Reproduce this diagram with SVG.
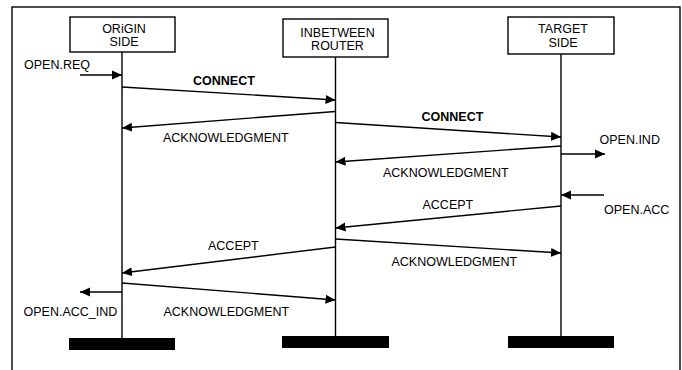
<svg xmlns="http://www.w3.org/2000/svg" width="682" height="370" viewBox="0 0 682 370">
<style>
text{font-family:"Liberation Sans",Arial,sans-serif;font-size:12.5px;fill:#000}
.b{font-weight:bold}
.m{text-anchor:middle}
.box{fill:#fff;stroke:#000;stroke-width:1.4}
.life{stroke:#000;stroke-width:1.4;fill:none}
.msg{stroke:#000;stroke-width:1.4;fill:none;marker-end:url(#ah)}
.bar{fill:#000}
</style>
<defs>
<marker id="ah" markerUnits="userSpaceOnUse" markerWidth="11" markerHeight="11" refX="10" refY="5" orient="auto">
<path d="M0,0.5 L10,5 L0,9.5 z" fill="#000"/>
</marker>
</defs>
<rect x="12" y="7" width="668" height="420" fill="none" stroke="#000" stroke-width="1.4"/>
<g id="origin">
<line class="life" x1="122" y1="52" x2="122" y2="339"/>
<rect class="box" x="70" y="17" width="105" height="35"/>
<text class="m" x="124" y="32.5">ORiGIN</text>
<text class="m" x="124" y="46">SIDE</text>
<rect class="bar" x="69" y="338" width="106" height="12"/>
</g>
<g id="router">
<line class="life" x1="335.5" y1="57" x2="335.5" y2="337"/>
<rect class="box" x="283" y="19" width="105" height="38"/>
<text class="m" x="337.5" y="36.5">INBETWEEN</text>
<text class="m" x="337.5" y="50">ROUTER</text>
<rect class="bar" x="282" y="336" width="107" height="12"/>
</g>
<g id="target">
<line class="life" x1="561" y1="54" x2="561" y2="337"/>
<rect class="box" x="508" y="17" width="106" height="37"/>
<text class="m" x="563" y="33">TARGET</text>
<text class="m" x="563" y="47">SIDE</text>
<rect class="bar" x="508" y="336" width="106" height="12"/>
</g>
<g id="connectors">
<line class="msg" x1="80" y1="75" x2="122" y2="75"/>
<line class="msg" x1="122" y1="87" x2="335.5" y2="100"/>
<line class="msg" x1="335.5" y1="111.5" x2="122" y2="128"/>
<line class="msg" x1="335.5" y1="122.5" x2="561" y2="137"/>
<line class="msg" x1="561" y1="154" x2="605" y2="154"/>
<line class="msg" x1="561" y1="146" x2="335.5" y2="162"/>
<line class="msg" x1="604" y1="195" x2="561" y2="195"/>
<line class="msg" x1="561" y1="206" x2="335.5" y2="228"/>
<line class="msg" x1="335.5" y1="239" x2="561" y2="253"/>
<line class="msg" x1="335.5" y1="247" x2="122" y2="273"/>
<line class="msg" x1="122" y1="283" x2="335.5" y2="300"/>
<line class="msg" x1="122" y1="292" x2="80" y2="292"/>
</g>
<g id="labels">
<text x="24" y="69">OPEN.REQ</text>
<text class="b" x="193" y="85">CONNECT</text>
<text x="163" y="141.5">ACKNOWLEDGMENT</text>
<text class="b" x="421.5" y="121">CONNECT</text>
<text x="599.5" y="144">OPEN.IND</text>
<text x="383" y="176.5">ACKNOWLEDGMENT</text>
<text x="422.5" y="209">ACCEPT</text>
<text x="604" y="214">OPEN.ACC</text>
<text x="208" y="250">ACCEPT</text>
<text x="391.5" y="266">ACKNOWLEDGMENT</text>
<text x="23.5" y="316">OPEN.ACC_IND</text>
<text x="163.5" y="316">ACKNOWLEDGMENT</text>
</g>
</svg>
